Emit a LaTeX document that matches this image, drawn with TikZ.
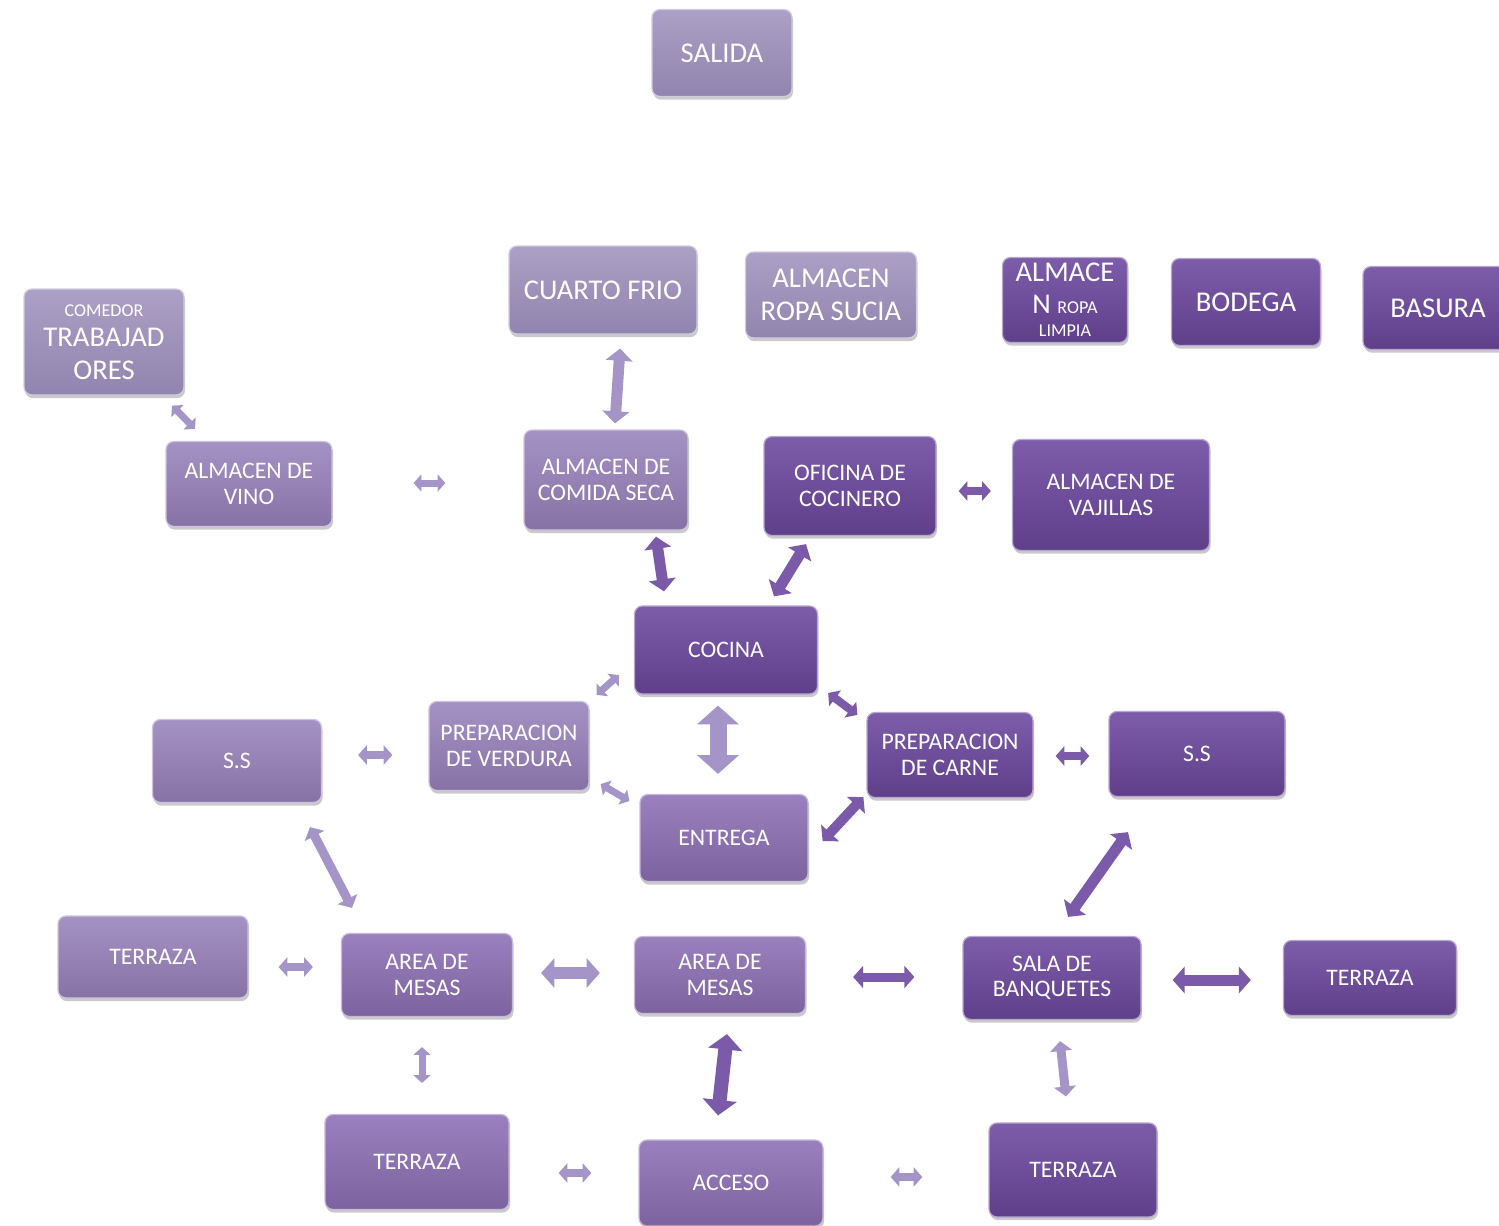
\documentclass[tikz,border=0pt]{standalone}
\usepackage{fontspec}
\setmainfont{Carlito}
\usetikzlibrary{arrows.meta,shadows}

\definecolor{paleA}{HTML}{ACA0C6}
\definecolor{paleB}{HTML}{9184AE}
\definecolor{softA}{HTML}{A592C4}
\definecolor{softB}{HTML}{8772A6}
\definecolor{midA}{HTML}{9A80BE}
\definecolor{midB}{HTML}{7C639F}
\definecolor{deepA}{HTML}{7D5DAA}
\definecolor{deepB}{HTML}{5F3F8A}
\definecolor{arlite}{HTML}{A594C8}
\definecolor{ardark}{HTML}{7B5BA9}

\newcommand\grande{\fontsize{16.3}{18.8}\selectfont}
\newcommand\chico{\fontsize{10.3}{12}\selectfont}

\tikzset{
  box/.style 2 args={rounded corners=0.16cm, minimum width=#1*0.02cm, minimum height=#2*0.02cm,
    inner sep=0pt, align=center, text=white, font=\fontsize{13.5}{14.4}\selectfont,
    drop shadow={shadow xshift=0.6pt, shadow yshift=-1.8pt, opacity=0.35, fill=black!60}},
  pale/.style={top color=paleA, bottom color=paleB, draw=paleA!55!white, line width=0.7pt},
  soft/.style={top color=softA, bottom color=softB, draw=softA!55!white, line width=0.7pt},
  mid/.style={top color=midA, bottom color=midB, draw=midA!55!white, line width=0.7pt},
  deep/.style={top color=deepA, bottom color=deepB, draw=deepA!55!white, line width=0.7pt},
  dbl/.style={line width=#1*0.02cm,
    {Triangle[length=0pt 1.1,width=0pt 2.4]}-{Triangle[length=0pt 1.1,width=0pt 2.4]}}
}

\begin{document}
\begin{tikzpicture}[x=0.02cm, y=-0.02cm]
  \useasboundingbox (0,0) rectangle (1499,1225);

  \node[box={140}{87}, pale] (salida) at (722,53) {\grande SALIDA};
  \node[box={188}{88}, pale] (frio) at (603,290) {\grande CUARTO FRIO};
  \node[box={171}{86}, pale, font=\grande] (sucia) at (831,295) {ALMACEN\\ROPA SUCIA};
  \node[box={125}{85}, deep, font=\grande] (limpia) at (1065,300) {ALMACE\\[-0.6pt]N \chico ROPA\\[-5.5pt]\chico LIMPIA};
  \node[box={149}{87}, deep] (bodega) at (1246,302) {\grande BODEGA};
  \node[box={150}{83}, deep] (basura) at (1438,308) {\grande BASURA};
  \node[box={160}{106}, pale, font=\grande] (comedor) at (104,342) {\chico COMEDOR\\[-1.8pt]TRABAJAD\\ORES};

  \node[box={166}{85}, soft] (vino) at (249,484) {ALMACEN DE\\VINO};
  \node[box={164}{100}, soft] (seca) at (606,480) {ALMACEN DE\\COMIDA SECA};
  \node[box={172}{99}, deep] (oficina) at (850,486) {OFICINA DE\\COCINERO};
  \node[box={197}{111}, deep] (vajillas) at (1111,495) {ALMACEN DE\\VAJILLAS};

  \node[box={183}{88}, deep] (cocina) at (726,650) {COCINA};
  \node[box={169}{83}, soft] (ssizq) at (237,761) {S.S};
  \node[box={160}{89}, soft] (verdura) at (509,746) {PREPARACION\\DE VERDURA};
  \node[box={166}{85}, deep] (carne) at (950,755) {PREPARACION\\DE CARNE};
  \node[box={176}{85}, deep] (ssder) at (1197,754) {S.S};
  \node[box={168}{87}, mid] (entrega) at (724,838) {ENTREGA};

  \node[box={190}{82}, soft] (terizq) at (153,957) {TERRAZA};
  \node[box={171}{83}, mid] (mesasizq) at (427,975) {AREA DE\\MESAS};
  \node[box={171}{77}, mid] (mesascen) at (720,975) {AREA DE\\MESAS};
  \node[box={178}{83}, deep] (banquetes) at (1052,978) {SALA DE\\BANQUETES};
  \node[box={173}{75}, deep] (terder) at (1370,978) {TERRAZA};

  \node[box={184}{95}, mid] (terabizq) at (417,1162) {TERRAZA};
  \node[box={184}{86}, mid] (acceso) at (731,1183) {ACCESO};
  \node[box={168}{94}, deep] (terabder) at (1073,1170) {TERRAZA};

  \draw[dbl=7, arlite] ([shift={(68,10)}]comedor.south) -- ([shift={(-54,-12)}]vino.north);
  \draw[dbl=7, arlite] ([shift={(81,-1)}]vino.east) -- ([shift={(-78,3)}]seca.west);
  \draw[dbl=11, arlite] ([shift={(17,14)}]frio.south) -- ([shift={(9,-6)}]seca.north);
  \draw[dbl=11, ardark] ([shift={(50,6)}]seca.south) -- ([shift={(-62,-14)}]cocina.north);
  \draw[dbl=11, ardark] ([shift={(-44,8)}]oficina.south) -- ([shift={(48,-9)}]cocina.north);
  \draw[dbl=8, ardark] ([shift={(22,5)}]oficina.east) -- ([shift={(-21,-4)}]vajillas.west);
  \draw[dbl=7, arlite] ([shift={(-15,25)}]cocina.west) -- ([shift={(7,-6)}]verdura.north east);
  \draw[dbl=8, ardark] ([shift={(10,43)}]cocina.east) -- ([shift={(-9,3)}]carne.north west);
  \draw[dbl=17, arlite] ([shift={(-8,11)}]cocina.south) -- ([shift={(-6,-20)}]entrega.north);
  \draw[dbl=7, arlite] ([shift={(11,-7)}]verdura.south east) -- ([shift={(-10,-37)}]entrega.west);
  \draw[dbl=10, ardark] ([shift={(-3,-1)}]carne.south west) -- ([shift={(14,3)}]entrega.east);
  \draw[dbl=8, arlite] ([shift={(36,-6)}]ssizq.east) -- ([shift={(-36,9)}]verdura.west);
  \draw[dbl=8, ardark] ([shift={(22,1)}]carne.east) -- ([shift={(-19,2)}]ssder.west);
  \draw[dbl=9, arlite] ([shift={(73,24)}]ssizq.south) -- ([shift={(-75,-25)}]mesasizq.north);
  \draw[dbl=11, ardark] ([shift={(-69,35)}]ssder.south) -- ([shift={(16,-19)}]banquetes.north);
  \draw[dbl=8, arlite] ([shift={(30,10)}]terizq.east) -- ([shift={(-28,-8)}]mesasizq.west);
  \draw[dbl=12, arlite] ([shift={(28,-2)}]mesasizq.east) -- ([shift={(-34,-2)}]mesascen.west);
  \draw[dbl=9, ardark] ([shift={(47,2)}]mesascen.east) -- ([shift={(-48,-1)}]banquetes.west);
  \draw[dbl=11, ardark] ([shift={(31,2)}]banquetes.east) -- ([shift={(-32,2)}]terder.west);
  \draw[dbl=7, arlite] ([shift={(-5,30)}]mesasizq.south) -- ([shift={(5,-31)}]terabizq.north);
  \draw[dbl=14, ardark] ([shift={(7,20)}]mesascen.south) -- ([shift={(-13,-24)}]acceso.north);
  \draw[dbl=9, arlite] ([shift={(8,21)}]banquetes.south) -- ([shift={(-7,-26)}]terabder.north);
  \draw[dbl=8, arlite] ([shift={(49,11)}]terabizq.east) -- ([shift={(-47,-10)}]acceso.west);
  \draw[dbl=8, arlite] ([shift={(67,-6)}]acceso.east) -- ([shift={(-66,7)}]terabder.west);
\end{tikzpicture}
\end{document}
